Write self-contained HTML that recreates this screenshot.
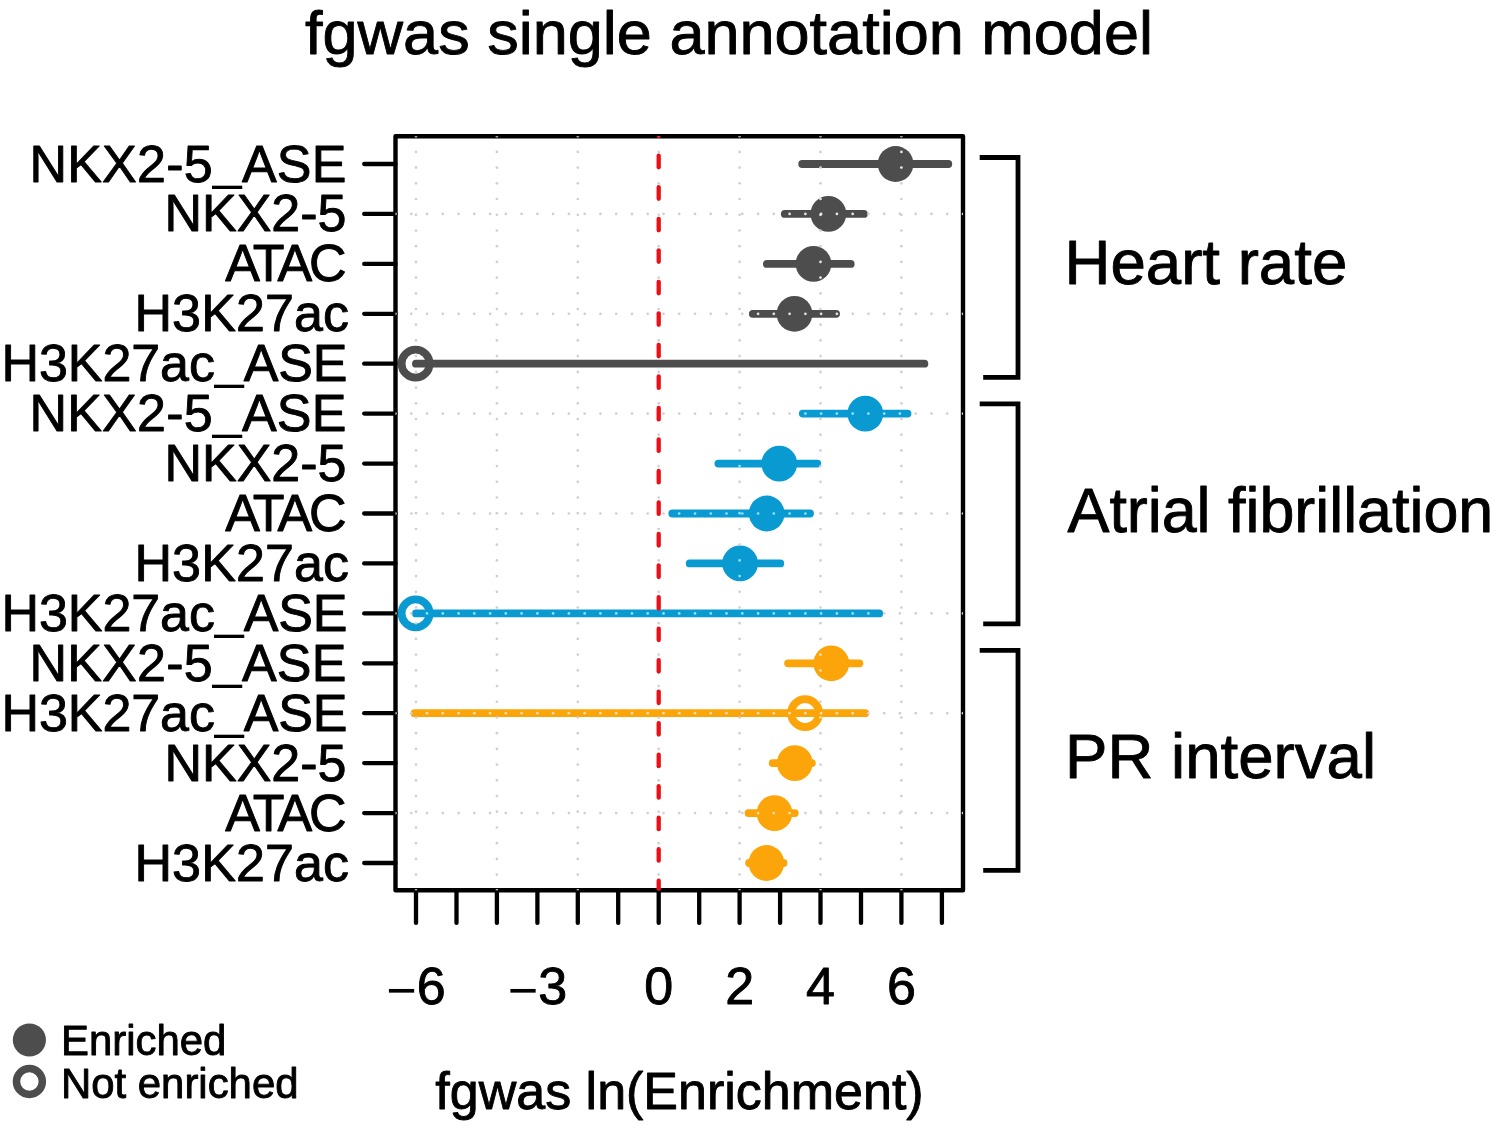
<!DOCTYPE html>
<html lang="en"><head><meta charset="utf-8"><title>fgwas single annotation model</title>
<style>html,body{margin:0;padding:0;background:#fff}body{width:1495px;height:1128px;overflow:hidden}svg{display:block}text{font-family:"Liberation Sans",sans-serif;fill:#000;stroke:#000;stroke-width:0.9px;stroke-linejoin:round}</style>
</head><body>
<svg width="1495" height="1128" viewBox="0 0 1495 1128">
<rect width="1495" height="1128" fill="#fff"/>
<text transform="translate(729 53.6) scale(1 0.977)" font-size="63.05" text-anchor="middle">fgwas single annotation model</text>
<defs><clipPath id="pc"><rect x="395.5" y="136.2" width="567.5" height="754.1"/></clipPath></defs>
<g id="data">
<line x1="802.2" y1="164.0" x2="948.3" y2="164.0" stroke="#4d4d4d" stroke-width="7.8" stroke-linecap="round"/>
<circle cx="895.6" cy="164.0" r="17.9" fill="#4d4d4d"/>
<line x1="784.8" y1="213.9" x2="863.9" y2="213.9" stroke="#4d4d4d" stroke-width="7.8" stroke-linecap="round"/>
<circle cx="828.4" cy="213.9" r="17.9" fill="#4d4d4d"/>
<line x1="766.9" y1="263.9" x2="850.7" y2="263.9" stroke="#4d4d4d" stroke-width="7.8" stroke-linecap="round"/>
<circle cx="813.5" cy="263.9" r="17.9" fill="#4d4d4d"/>
<line x1="752.8" y1="313.8" x2="836.1" y2="313.8" stroke="#4d4d4d" stroke-width="7.8" stroke-linecap="round"/>
<circle cx="794.5" cy="313.8" r="17.9" fill="#4d4d4d"/>
<circle cx="415.6" cy="363.7" r="14.00" fill="#fff" stroke="#4d4d4d" stroke-width="7.8"/>
<line x1="415.9" y1="363.7" x2="924.4" y2="363.7" stroke="#4d4d4d" stroke-width="7.8" stroke-linecap="round"/>
<line x1="802.8" y1="413.6" x2="907.5" y2="413.6" stroke="#0a9ad2" stroke-width="7.8" stroke-linecap="round"/>
<circle cx="865.3" cy="413.6" r="17.9" fill="#0a9ad2"/>
<line x1="718.4" y1="463.6" x2="817.3" y2="463.6" stroke="#0a9ad2" stroke-width="7.8" stroke-linecap="round"/>
<circle cx="779.3" cy="463.6" r="17.9" fill="#0a9ad2"/>
<line x1="672.3" y1="513.5" x2="810.0" y2="513.5" stroke="#0a9ad2" stroke-width="7.8" stroke-linecap="round"/>
<circle cx="766.7" cy="513.5" r="17.9" fill="#0a9ad2"/>
<line x1="689.7" y1="563.4" x2="780.3" y2="563.4" stroke="#0a9ad2" stroke-width="7.8" stroke-linecap="round"/>
<circle cx="740.1" cy="563.4" r="17.9" fill="#0a9ad2"/>
<circle cx="415.6" cy="613.4" r="14.00" fill="#fff" stroke="#0a9ad2" stroke-width="7.8"/>
<line x1="415.9" y1="613.4" x2="879.2" y2="613.4" stroke="#0a9ad2" stroke-width="7.8" stroke-linecap="round"/>
<line x1="788.1" y1="663.3" x2="859.4" y2="663.3" stroke="#fca50a" stroke-width="7.8" stroke-linecap="round"/>
<circle cx="831.3" cy="663.3" r="17.9" fill="#fca50a"/>
<circle cx="805.1" cy="713.2" r="14.00" fill="#fff" stroke="#fca50a" stroke-width="7.8"/>
<line x1="414.5" y1="713.2" x2="865.2" y2="713.2" stroke="#fca50a" stroke-width="7.8" stroke-linecap="round"/>
<line x1="772.7" y1="763.1" x2="811.9" y2="763.1" stroke="#fca50a" stroke-width="7.8" stroke-linecap="round"/>
<circle cx="794.8" cy="763.1" r="17.9" fill="#fca50a"/>
<line x1="748.5" y1="813.1" x2="794.8" y2="813.1" stroke="#fca50a" stroke-width="7.8" stroke-linecap="round"/>
<circle cx="774.5" cy="813.1" r="17.9" fill="#fca50a"/>
<line x1="749.1" y1="863.0" x2="783.5" y2="863.0" stroke="#fca50a" stroke-width="7.8" stroke-linecap="round"/>
<circle cx="766.4" cy="863.0" r="17.9" fill="#fca50a"/>
</g>
<g id="axes" stroke="#000" fill="none">
<rect x="395.5" y="136.2" width="567.5" height="754.1" stroke-width="4.4" stroke-linejoin="round"/>
<line x1="364.2" y1="164.0" x2="395.5" y2="164.0" stroke-width="4.3" stroke-linecap="round"/>
<line x1="364.2" y1="213.9" x2="395.5" y2="213.9" stroke-width="4.3" stroke-linecap="round"/>
<line x1="364.2" y1="263.9" x2="395.5" y2="263.9" stroke-width="4.3" stroke-linecap="round"/>
<line x1="364.2" y1="313.8" x2="395.5" y2="313.8" stroke-width="4.3" stroke-linecap="round"/>
<line x1="364.2" y1="363.7" x2="395.5" y2="363.7" stroke-width="4.3" stroke-linecap="round"/>
<line x1="364.2" y1="413.6" x2="395.5" y2="413.6" stroke-width="4.3" stroke-linecap="round"/>
<line x1="364.2" y1="463.6" x2="395.5" y2="463.6" stroke-width="4.3" stroke-linecap="round"/>
<line x1="364.2" y1="513.5" x2="395.5" y2="513.5" stroke-width="4.3" stroke-linecap="round"/>
<line x1="364.2" y1="563.4" x2="395.5" y2="563.4" stroke-width="4.3" stroke-linecap="round"/>
<line x1="364.2" y1="613.4" x2="395.5" y2="613.4" stroke-width="4.3" stroke-linecap="round"/>
<line x1="364.2" y1="663.3" x2="395.5" y2="663.3" stroke-width="4.3" stroke-linecap="round"/>
<line x1="364.2" y1="713.2" x2="395.5" y2="713.2" stroke-width="4.3" stroke-linecap="round"/>
<line x1="364.2" y1="763.1" x2="395.5" y2="763.1" stroke-width="4.3" stroke-linecap="round"/>
<line x1="364.2" y1="813.1" x2="395.5" y2="813.1" stroke-width="4.3" stroke-linecap="round"/>
<line x1="364.2" y1="863.0" x2="395.5" y2="863.0" stroke-width="4.3" stroke-linecap="round"/>
<line x1="416.0" y1="890.3" x2="416.0" y2="922.9" stroke-width="4.3" stroke-linecap="round"/>
<line x1="456.5" y1="890.3" x2="456.5" y2="922.9" stroke-width="4.3" stroke-linecap="round"/>
<line x1="496.9" y1="890.3" x2="496.9" y2="922.9" stroke-width="4.3" stroke-linecap="round"/>
<line x1="537.4" y1="890.3" x2="537.4" y2="922.9" stroke-width="4.3" stroke-linecap="round"/>
<line x1="577.8" y1="890.3" x2="577.8" y2="922.9" stroke-width="4.3" stroke-linecap="round"/>
<line x1="618.2" y1="890.3" x2="618.2" y2="922.9" stroke-width="4.3" stroke-linecap="round"/>
<line x1="658.7" y1="890.3" x2="658.7" y2="922.9" stroke-width="4.3" stroke-linecap="round"/>
<line x1="699.2" y1="890.3" x2="699.2" y2="922.9" stroke-width="4.3" stroke-linecap="round"/>
<line x1="739.6" y1="890.3" x2="739.6" y2="922.9" stroke-width="4.3" stroke-linecap="round"/>
<line x1="780.1" y1="890.3" x2="780.1" y2="922.9" stroke-width="4.3" stroke-linecap="round"/>
<line x1="820.5" y1="890.3" x2="820.5" y2="922.9" stroke-width="4.3" stroke-linecap="round"/>
<line x1="861.0" y1="890.3" x2="861.0" y2="922.9" stroke-width="4.3" stroke-linecap="round"/>
<line x1="901.4" y1="890.3" x2="901.4" y2="922.9" stroke-width="4.3" stroke-linecap="round"/>
<line x1="941.9" y1="890.3" x2="941.9" y2="922.9" stroke-width="4.3" stroke-linecap="round"/>
<path d="M979.7 157.5 H1018 V377.4 H983.2" stroke-width="4.8" stroke-linejoin="miter"/>
<path d="M979.7 403.9 H1018 V623.9 H983.2" stroke-width="4.8" stroke-linejoin="miter"/>
<path d="M979.7 650.3 H1018 V870.4 H983.2" stroke-width="4.8" stroke-linejoin="miter"/>
</g>
<g id="grid" clip-path="url(#pc)">
<circle cx="416.0" cy="136.2" r="1.35" fill="#d0d0d0"/>
<circle cx="416.0" cy="151.9" r="1.35" fill="#d0d0d0"/>
<circle cx="416.0" cy="167.6" r="1.35" fill="#d0d0d0"/>
<circle cx="416.0" cy="183.3" r="1.35" fill="#d0d0d0"/>
<circle cx="416.0" cy="199.0" r="1.35" fill="#d0d0d0"/>
<circle cx="416.0" cy="214.8" r="1.35" fill="#d0d0d0"/>
<circle cx="416.0" cy="230.5" r="1.35" fill="#d0d0d0"/>
<circle cx="416.0" cy="246.2" r="1.35" fill="#d0d0d0"/>
<circle cx="416.0" cy="261.9" r="1.35" fill="#d0d0d0"/>
<circle cx="416.0" cy="277.6" r="1.35" fill="#d0d0d0"/>
<circle cx="416.0" cy="293.3" r="1.35" fill="#d0d0d0"/>
<circle cx="416.0" cy="309.0" r="1.35" fill="#d0d0d0"/>
<circle cx="416.0" cy="324.7" r="1.35" fill="#d0d0d0"/>
<circle cx="416.0" cy="340.4" r="1.35" fill="#d0d0d0"/>
<circle cx="416.0" cy="356.1" r="1.35" fill="#d0d0d0"/>
<circle cx="416.0" cy="371.9" r="1.35" fill="#d0d0d0"/>
<circle cx="416.0" cy="387.6" r="1.35" fill="#d0d0d0"/>
<circle cx="416.0" cy="403.3" r="1.35" fill="#d0d0d0"/>
<circle cx="416.0" cy="419.0" r="1.35" fill="#d0d0d0"/>
<circle cx="416.0" cy="434.7" r="1.35" fill="#d0d0d0"/>
<circle cx="416.0" cy="450.4" r="1.35" fill="#d0d0d0"/>
<circle cx="416.0" cy="466.1" r="1.35" fill="#d0d0d0"/>
<circle cx="416.0" cy="481.8" r="1.35" fill="#d0d0d0"/>
<circle cx="416.0" cy="497.5" r="1.35" fill="#d0d0d0"/>
<circle cx="416.0" cy="513.2" r="1.35" fill="#d0d0d0"/>
<circle cx="416.0" cy="529.0" r="1.35" fill="#d0d0d0"/>
<circle cx="416.0" cy="544.7" r="1.35" fill="#d0d0d0"/>
<circle cx="416.0" cy="560.4" r="1.35" fill="#d0d0d0"/>
<circle cx="416.0" cy="576.1" r="1.35" fill="#d0d0d0"/>
<circle cx="416.0" cy="591.8" r="1.35" fill="#d0d0d0"/>
<circle cx="416.0" cy="607.5" r="1.35" fill="#d0d0d0"/>
<circle cx="416.0" cy="623.2" r="1.35" fill="#d0d0d0"/>
<circle cx="416.0" cy="638.9" r="1.35" fill="#d0d0d0"/>
<circle cx="416.0" cy="654.6" r="1.35" fill="#d0d0d0"/>
<circle cx="416.0" cy="670.4" r="1.35" fill="#d0d0d0"/>
<circle cx="416.0" cy="686.1" r="1.35" fill="#d0d0d0"/>
<circle cx="416.0" cy="701.8" r="1.35" fill="#d0d0d0"/>
<circle cx="416.0" cy="717.5" r="1.35" fill="#d0d0d0"/>
<circle cx="416.0" cy="733.2" r="1.35" fill="#d0d0d0"/>
<circle cx="416.0" cy="748.9" r="1.35" fill="#d0d0d0"/>
<circle cx="416.0" cy="764.6" r="1.35" fill="#d0d0d0"/>
<circle cx="416.0" cy="780.3" r="1.35" fill="#d0d0d0"/>
<circle cx="416.0" cy="796.0" r="1.35" fill="#d0d0d0"/>
<circle cx="416.0" cy="811.7" r="1.35" fill="#d0d0d0"/>
<circle cx="416.0" cy="827.5" r="1.35" fill="#d0d0d0"/>
<circle cx="416.0" cy="843.2" r="1.35" fill="#d0d0d0"/>
<circle cx="416.0" cy="858.9" r="1.35" fill="#d0d0d0"/>
<circle cx="416.0" cy="874.6" r="1.35" fill="#d0d0d0"/>
<circle cx="416.0" cy="890.3" r="1.35" fill="#d0d0d0"/>
<circle cx="496.9" cy="136.2" r="1.35" fill="#d0d0d0"/>
<circle cx="496.9" cy="151.9" r="1.35" fill="#d0d0d0"/>
<circle cx="496.9" cy="167.6" r="1.35" fill="#d0d0d0"/>
<circle cx="496.9" cy="183.3" r="1.35" fill="#d0d0d0"/>
<circle cx="496.9" cy="199.0" r="1.35" fill="#d0d0d0"/>
<circle cx="496.9" cy="214.8" r="1.35" fill="#d0d0d0"/>
<circle cx="496.9" cy="230.5" r="1.35" fill="#d0d0d0"/>
<circle cx="496.9" cy="246.2" r="1.35" fill="#d0d0d0"/>
<circle cx="496.9" cy="261.9" r="1.35" fill="#d0d0d0"/>
<circle cx="496.9" cy="277.6" r="1.35" fill="#d0d0d0"/>
<circle cx="496.9" cy="293.3" r="1.35" fill="#d0d0d0"/>
<circle cx="496.9" cy="309.0" r="1.35" fill="#d0d0d0"/>
<circle cx="496.9" cy="324.7" r="1.35" fill="#d0d0d0"/>
<circle cx="496.9" cy="340.4" r="1.35" fill="#d0d0d0"/>
<circle cx="496.9" cy="356.1" r="1.35" fill="#d0d0d0"/>
<circle cx="496.9" cy="371.9" r="1.35" fill="#d0d0d0"/>
<circle cx="496.9" cy="387.6" r="1.35" fill="#d0d0d0"/>
<circle cx="496.9" cy="403.3" r="1.35" fill="#d0d0d0"/>
<circle cx="496.9" cy="419.0" r="1.35" fill="#d0d0d0"/>
<circle cx="496.9" cy="434.7" r="1.35" fill="#d0d0d0"/>
<circle cx="496.9" cy="450.4" r="1.35" fill="#d0d0d0"/>
<circle cx="496.9" cy="466.1" r="1.35" fill="#d0d0d0"/>
<circle cx="496.9" cy="481.8" r="1.35" fill="#d0d0d0"/>
<circle cx="496.9" cy="497.5" r="1.35" fill="#d0d0d0"/>
<circle cx="496.9" cy="513.2" r="1.35" fill="#d0d0d0"/>
<circle cx="496.9" cy="529.0" r="1.35" fill="#d0d0d0"/>
<circle cx="496.9" cy="544.7" r="1.35" fill="#d0d0d0"/>
<circle cx="496.9" cy="560.4" r="1.35" fill="#d0d0d0"/>
<circle cx="496.9" cy="576.1" r="1.35" fill="#d0d0d0"/>
<circle cx="496.9" cy="591.8" r="1.35" fill="#d0d0d0"/>
<circle cx="496.9" cy="607.5" r="1.35" fill="#d0d0d0"/>
<circle cx="496.9" cy="623.2" r="1.35" fill="#d0d0d0"/>
<circle cx="496.9" cy="638.9" r="1.35" fill="#d0d0d0"/>
<circle cx="496.9" cy="654.6" r="1.35" fill="#d0d0d0"/>
<circle cx="496.9" cy="670.4" r="1.35" fill="#d0d0d0"/>
<circle cx="496.9" cy="686.1" r="1.35" fill="#d0d0d0"/>
<circle cx="496.9" cy="701.8" r="1.35" fill="#d0d0d0"/>
<circle cx="496.9" cy="717.5" r="1.35" fill="#d0d0d0"/>
<circle cx="496.9" cy="733.2" r="1.35" fill="#d0d0d0"/>
<circle cx="496.9" cy="748.9" r="1.35" fill="#d0d0d0"/>
<circle cx="496.9" cy="764.6" r="1.35" fill="#d0d0d0"/>
<circle cx="496.9" cy="780.3" r="1.35" fill="#d0d0d0"/>
<circle cx="496.9" cy="796.0" r="1.35" fill="#d0d0d0"/>
<circle cx="496.9" cy="811.7" r="1.35" fill="#d0d0d0"/>
<circle cx="496.9" cy="827.5" r="1.35" fill="#d0d0d0"/>
<circle cx="496.9" cy="843.2" r="1.35" fill="#d0d0d0"/>
<circle cx="496.9" cy="858.9" r="1.35" fill="#d0d0d0"/>
<circle cx="496.9" cy="874.6" r="1.35" fill="#d0d0d0"/>
<circle cx="496.9" cy="890.3" r="1.35" fill="#d0d0d0"/>
<circle cx="577.8" cy="136.2" r="1.35" fill="#d0d0d0"/>
<circle cx="577.8" cy="151.9" r="1.35" fill="#d0d0d0"/>
<circle cx="577.8" cy="167.6" r="1.35" fill="#d0d0d0"/>
<circle cx="577.8" cy="183.3" r="1.35" fill="#d0d0d0"/>
<circle cx="577.8" cy="199.0" r="1.35" fill="#d0d0d0"/>
<circle cx="577.8" cy="214.8" r="1.35" fill="#d0d0d0"/>
<circle cx="577.8" cy="230.5" r="1.35" fill="#d0d0d0"/>
<circle cx="577.8" cy="246.2" r="1.35" fill="#d0d0d0"/>
<circle cx="577.8" cy="261.9" r="1.35" fill="#d0d0d0"/>
<circle cx="577.8" cy="277.6" r="1.35" fill="#d0d0d0"/>
<circle cx="577.8" cy="293.3" r="1.35" fill="#d0d0d0"/>
<circle cx="577.8" cy="309.0" r="1.35" fill="#d0d0d0"/>
<circle cx="577.8" cy="324.7" r="1.35" fill="#d0d0d0"/>
<circle cx="577.8" cy="340.4" r="1.35" fill="#d0d0d0"/>
<circle cx="577.8" cy="356.1" r="1.35" fill="#d0d0d0"/>
<circle cx="577.8" cy="371.9" r="1.35" fill="#d0d0d0"/>
<circle cx="577.8" cy="387.6" r="1.35" fill="#d0d0d0"/>
<circle cx="577.8" cy="403.3" r="1.35" fill="#d0d0d0"/>
<circle cx="577.8" cy="419.0" r="1.35" fill="#d0d0d0"/>
<circle cx="577.8" cy="434.7" r="1.35" fill="#d0d0d0"/>
<circle cx="577.8" cy="450.4" r="1.35" fill="#d0d0d0"/>
<circle cx="577.8" cy="466.1" r="1.35" fill="#d0d0d0"/>
<circle cx="577.8" cy="481.8" r="1.35" fill="#d0d0d0"/>
<circle cx="577.8" cy="497.5" r="1.35" fill="#d0d0d0"/>
<circle cx="577.8" cy="513.2" r="1.35" fill="#d0d0d0"/>
<circle cx="577.8" cy="529.0" r="1.35" fill="#d0d0d0"/>
<circle cx="577.8" cy="544.7" r="1.35" fill="#d0d0d0"/>
<circle cx="577.8" cy="560.4" r="1.35" fill="#d0d0d0"/>
<circle cx="577.8" cy="576.1" r="1.35" fill="#d0d0d0"/>
<circle cx="577.8" cy="591.8" r="1.35" fill="#d0d0d0"/>
<circle cx="577.8" cy="607.5" r="1.35" fill="#d0d0d0"/>
<circle cx="577.8" cy="623.2" r="1.35" fill="#d0d0d0"/>
<circle cx="577.8" cy="638.9" r="1.35" fill="#d0d0d0"/>
<circle cx="577.8" cy="654.6" r="1.35" fill="#d0d0d0"/>
<circle cx="577.8" cy="670.4" r="1.35" fill="#d0d0d0"/>
<circle cx="577.8" cy="686.1" r="1.35" fill="#d0d0d0"/>
<circle cx="577.8" cy="701.8" r="1.35" fill="#d0d0d0"/>
<circle cx="577.8" cy="717.5" r="1.35" fill="#d0d0d0"/>
<circle cx="577.8" cy="733.2" r="1.35" fill="#d0d0d0"/>
<circle cx="577.8" cy="748.9" r="1.35" fill="#d0d0d0"/>
<circle cx="577.8" cy="764.6" r="1.35" fill="#d0d0d0"/>
<circle cx="577.8" cy="780.3" r="1.35" fill="#d0d0d0"/>
<circle cx="577.8" cy="796.0" r="1.35" fill="#d0d0d0"/>
<circle cx="577.8" cy="811.7" r="1.35" fill="#d0d0d0"/>
<circle cx="577.8" cy="827.5" r="1.35" fill="#d0d0d0"/>
<circle cx="577.8" cy="843.2" r="1.35" fill="#d0d0d0"/>
<circle cx="577.8" cy="858.9" r="1.35" fill="#d0d0d0"/>
<circle cx="577.8" cy="874.6" r="1.35" fill="#d0d0d0"/>
<circle cx="577.8" cy="890.3" r="1.35" fill="#d0d0d0"/>
<circle cx="658.7" cy="136.2" r="1.35" fill="#d0d0d0"/>
<circle cx="658.7" cy="151.9" r="1.35" fill="#d0d0d0"/>
<circle cx="658.7" cy="167.6" r="1.35" fill="#d0d0d0"/>
<circle cx="658.7" cy="183.3" r="1.35" fill="#d0d0d0"/>
<circle cx="658.7" cy="199.0" r="1.35" fill="#d0d0d0"/>
<circle cx="658.7" cy="214.8" r="1.35" fill="#d0d0d0"/>
<circle cx="658.7" cy="230.5" r="1.35" fill="#d0d0d0"/>
<circle cx="658.7" cy="246.2" r="1.35" fill="#d0d0d0"/>
<circle cx="658.7" cy="261.9" r="1.35" fill="#d0d0d0"/>
<circle cx="658.7" cy="277.6" r="1.35" fill="#d0d0d0"/>
<circle cx="658.7" cy="293.3" r="1.35" fill="#d0d0d0"/>
<circle cx="658.7" cy="309.0" r="1.35" fill="#d0d0d0"/>
<circle cx="658.7" cy="324.7" r="1.35" fill="#d0d0d0"/>
<circle cx="658.7" cy="340.4" r="1.35" fill="#d0d0d0"/>
<circle cx="658.7" cy="356.1" r="1.35" fill="#d0d0d0"/>
<circle cx="658.7" cy="371.9" r="1.35" fill="#d0d0d0"/>
<circle cx="658.7" cy="387.6" r="1.35" fill="#d0d0d0"/>
<circle cx="658.7" cy="403.3" r="1.35" fill="#d0d0d0"/>
<circle cx="658.7" cy="419.0" r="1.35" fill="#d0d0d0"/>
<circle cx="658.7" cy="434.7" r="1.35" fill="#d0d0d0"/>
<circle cx="658.7" cy="450.4" r="1.35" fill="#d0d0d0"/>
<circle cx="658.7" cy="466.1" r="1.35" fill="#d0d0d0"/>
<circle cx="658.7" cy="481.8" r="1.35" fill="#d0d0d0"/>
<circle cx="658.7" cy="497.5" r="1.35" fill="#d0d0d0"/>
<circle cx="658.7" cy="513.2" r="1.35" fill="#d0d0d0"/>
<circle cx="658.7" cy="529.0" r="1.35" fill="#d0d0d0"/>
<circle cx="658.7" cy="544.7" r="1.35" fill="#d0d0d0"/>
<circle cx="658.7" cy="560.4" r="1.35" fill="#d0d0d0"/>
<circle cx="658.7" cy="576.1" r="1.35" fill="#d0d0d0"/>
<circle cx="658.7" cy="591.8" r="1.35" fill="#d0d0d0"/>
<circle cx="658.7" cy="607.5" r="1.35" fill="#d0d0d0"/>
<circle cx="658.7" cy="623.2" r="1.35" fill="#d0d0d0"/>
<circle cx="658.7" cy="638.9" r="1.35" fill="#d0d0d0"/>
<circle cx="658.7" cy="654.6" r="1.35" fill="#d0d0d0"/>
<circle cx="658.7" cy="670.4" r="1.35" fill="#d0d0d0"/>
<circle cx="658.7" cy="686.1" r="1.35" fill="#d0d0d0"/>
<circle cx="658.7" cy="701.8" r="1.35" fill="#d0d0d0"/>
<circle cx="658.7" cy="717.5" r="1.35" fill="#d0d0d0"/>
<circle cx="658.7" cy="733.2" r="1.35" fill="#d0d0d0"/>
<circle cx="658.7" cy="748.9" r="1.35" fill="#d0d0d0"/>
<circle cx="658.7" cy="764.6" r="1.35" fill="#d0d0d0"/>
<circle cx="658.7" cy="780.3" r="1.35" fill="#d0d0d0"/>
<circle cx="658.7" cy="796.0" r="1.35" fill="#d0d0d0"/>
<circle cx="658.7" cy="811.7" r="1.35" fill="#d0d0d0"/>
<circle cx="658.7" cy="827.5" r="1.35" fill="#d0d0d0"/>
<circle cx="658.7" cy="843.2" r="1.35" fill="#d0d0d0"/>
<circle cx="658.7" cy="858.9" r="1.35" fill="#d0d0d0"/>
<circle cx="658.7" cy="874.6" r="1.35" fill="#d0d0d0"/>
<circle cx="658.7" cy="890.3" r="1.35" fill="#d0d0d0"/>
<circle cx="739.6" cy="136.2" r="1.35" fill="#d0d0d0"/>
<circle cx="739.6" cy="151.9" r="1.35" fill="#d0d0d0"/>
<circle cx="739.6" cy="167.6" r="1.35" fill="#d0d0d0"/>
<circle cx="739.6" cy="183.3" r="1.35" fill="#d0d0d0"/>
<circle cx="739.6" cy="199.0" r="1.35" fill="#d0d0d0"/>
<circle cx="739.6" cy="214.8" r="1.35" fill="#d0d0d0"/>
<circle cx="739.6" cy="230.5" r="1.35" fill="#d0d0d0"/>
<circle cx="739.6" cy="246.2" r="1.35" fill="#d0d0d0"/>
<circle cx="739.6" cy="261.9" r="1.35" fill="#d0d0d0"/>
<circle cx="739.6" cy="277.6" r="1.35" fill="#d0d0d0"/>
<circle cx="739.6" cy="293.3" r="1.35" fill="#d0d0d0"/>
<circle cx="739.6" cy="309.0" r="1.35" fill="#d0d0d0"/>
<circle cx="739.6" cy="324.7" r="1.35" fill="#d0d0d0"/>
<circle cx="739.6" cy="340.4" r="1.35" fill="#d0d0d0"/>
<circle cx="739.6" cy="356.1" r="1.35" fill="#d0d0d0"/>
<circle cx="739.6" cy="371.9" r="1.35" fill="#d0d0d0"/>
<circle cx="739.6" cy="387.6" r="1.35" fill="#d0d0d0"/>
<circle cx="739.6" cy="403.3" r="1.35" fill="#d0d0d0"/>
<circle cx="739.6" cy="419.0" r="1.35" fill="#d0d0d0"/>
<circle cx="739.6" cy="434.7" r="1.35" fill="#d0d0d0"/>
<circle cx="739.6" cy="450.4" r="1.35" fill="#d0d0d0"/>
<circle cx="739.6" cy="466.1" r="1.35" fill="#8fe4ff"/>
<circle cx="739.6" cy="481.8" r="1.35" fill="#d0d0d0"/>
<circle cx="739.6" cy="497.5" r="1.35" fill="#d0d0d0"/>
<circle cx="739.6" cy="513.2" r="1.35" fill="#8fe4ff"/>
<circle cx="739.6" cy="529.0" r="1.35" fill="#d0d0d0"/>
<circle cx="739.6" cy="544.7" r="1.35" fill="#d0d0d0"/>
<circle cx="739.6" cy="560.4" r="1.35" fill="#8fe4ff"/>
<circle cx="739.6" cy="576.1" r="1.35" fill="#8fe4ff"/>
<circle cx="739.6" cy="591.8" r="1.35" fill="#d0d0d0"/>
<circle cx="739.6" cy="607.5" r="1.35" fill="#d0d0d0"/>
<circle cx="739.6" cy="623.2" r="1.35" fill="#d0d0d0"/>
<circle cx="739.6" cy="638.9" r="1.35" fill="#d0d0d0"/>
<circle cx="739.6" cy="654.6" r="1.35" fill="#d0d0d0"/>
<circle cx="739.6" cy="670.4" r="1.35" fill="#d0d0d0"/>
<circle cx="739.6" cy="686.1" r="1.35" fill="#d0d0d0"/>
<circle cx="739.6" cy="701.8" r="1.35" fill="#d0d0d0"/>
<circle cx="739.6" cy="717.5" r="1.35" fill="#d0d0d0"/>
<circle cx="739.6" cy="733.2" r="1.35" fill="#d0d0d0"/>
<circle cx="739.6" cy="748.9" r="1.35" fill="#d0d0d0"/>
<circle cx="739.6" cy="764.6" r="1.35" fill="#d0d0d0"/>
<circle cx="739.6" cy="780.3" r="1.35" fill="#d0d0d0"/>
<circle cx="739.6" cy="796.0" r="1.35" fill="#d0d0d0"/>
<circle cx="739.6" cy="811.7" r="1.35" fill="#d0d0d0"/>
<circle cx="739.6" cy="827.5" r="1.35" fill="#d0d0d0"/>
<circle cx="739.6" cy="843.2" r="1.35" fill="#d0d0d0"/>
<circle cx="739.6" cy="858.9" r="1.35" fill="#d0d0d0"/>
<circle cx="739.6" cy="874.6" r="1.35" fill="#d0d0d0"/>
<circle cx="739.6" cy="890.3" r="1.35" fill="#d0d0d0"/>
<circle cx="820.5" cy="136.2" r="1.35" fill="#d0d0d0"/>
<circle cx="820.5" cy="151.9" r="1.35" fill="#d0d0d0"/>
<circle cx="820.5" cy="167.6" r="1.35" fill="#d0d0d0"/>
<circle cx="820.5" cy="183.3" r="1.35" fill="#d0d0d0"/>
<circle cx="820.5" cy="199.0" r="1.35" fill="#e6e6e6"/>
<circle cx="820.5" cy="214.8" r="1.35" fill="#e6e6e6"/>
<circle cx="820.5" cy="230.5" r="1.35" fill="#d0d0d0"/>
<circle cx="820.5" cy="246.2" r="1.35" fill="#d0d0d0"/>
<circle cx="820.5" cy="261.9" r="1.35" fill="#e6e6e6"/>
<circle cx="820.5" cy="277.6" r="1.35" fill="#e6e6e6"/>
<circle cx="820.5" cy="293.3" r="1.35" fill="#d0d0d0"/>
<circle cx="820.5" cy="309.0" r="1.35" fill="#d0d0d0"/>
<circle cx="820.5" cy="324.7" r="1.35" fill="#d0d0d0"/>
<circle cx="820.5" cy="340.4" r="1.35" fill="#d0d0d0"/>
<circle cx="820.5" cy="356.1" r="1.35" fill="#d0d0d0"/>
<circle cx="820.5" cy="371.9" r="1.35" fill="#d0d0d0"/>
<circle cx="820.5" cy="387.6" r="1.35" fill="#d0d0d0"/>
<circle cx="820.5" cy="403.3" r="1.35" fill="#d0d0d0"/>
<circle cx="820.5" cy="419.0" r="1.35" fill="#d0d0d0"/>
<circle cx="820.5" cy="434.7" r="1.35" fill="#d0d0d0"/>
<circle cx="820.5" cy="450.4" r="1.35" fill="#d0d0d0"/>
<circle cx="820.5" cy="466.1" r="1.35" fill="#d0d0d0"/>
<circle cx="820.5" cy="481.8" r="1.35" fill="#d0d0d0"/>
<circle cx="820.5" cy="497.5" r="1.35" fill="#d0d0d0"/>
<circle cx="820.5" cy="513.2" r="1.35" fill="#d0d0d0"/>
<circle cx="820.5" cy="529.0" r="1.35" fill="#d0d0d0"/>
<circle cx="820.5" cy="544.7" r="1.35" fill="#d0d0d0"/>
<circle cx="820.5" cy="560.4" r="1.35" fill="#d0d0d0"/>
<circle cx="820.5" cy="576.1" r="1.35" fill="#d0d0d0"/>
<circle cx="820.5" cy="591.8" r="1.35" fill="#d0d0d0"/>
<circle cx="820.5" cy="607.5" r="1.35" fill="#d0d0d0"/>
<circle cx="820.5" cy="623.2" r="1.35" fill="#d0d0d0"/>
<circle cx="820.5" cy="638.9" r="1.35" fill="#d0d0d0"/>
<circle cx="820.5" cy="654.6" r="1.35" fill="#ffdfae"/>
<circle cx="820.5" cy="670.4" r="1.35" fill="#ffdfae"/>
<circle cx="820.5" cy="686.1" r="1.35" fill="#d0d0d0"/>
<circle cx="820.5" cy="701.8" r="1.35" fill="#d0d0d0"/>
<circle cx="820.5" cy="717.5" r="1.35" fill="#ffdfae"/>
<circle cx="820.5" cy="733.2" r="1.35" fill="#d0d0d0"/>
<circle cx="820.5" cy="748.9" r="1.35" fill="#d0d0d0"/>
<circle cx="820.5" cy="764.6" r="1.35" fill="#d0d0d0"/>
<circle cx="820.5" cy="780.3" r="1.35" fill="#d0d0d0"/>
<circle cx="820.5" cy="796.0" r="1.35" fill="#d0d0d0"/>
<circle cx="820.5" cy="811.7" r="1.35" fill="#d0d0d0"/>
<circle cx="820.5" cy="827.5" r="1.35" fill="#d0d0d0"/>
<circle cx="820.5" cy="843.2" r="1.35" fill="#d0d0d0"/>
<circle cx="820.5" cy="858.9" r="1.35" fill="#d0d0d0"/>
<circle cx="820.5" cy="874.6" r="1.35" fill="#d0d0d0"/>
<circle cx="820.5" cy="890.3" r="1.35" fill="#d0d0d0"/>
<circle cx="901.4" cy="136.2" r="1.35" fill="#d0d0d0"/>
<circle cx="901.4" cy="151.9" r="1.35" fill="#e6e6e6"/>
<circle cx="901.4" cy="167.6" r="1.35" fill="#e6e6e6"/>
<circle cx="901.4" cy="183.3" r="1.35" fill="#d0d0d0"/>
<circle cx="901.4" cy="199.0" r="1.35" fill="#d0d0d0"/>
<circle cx="901.4" cy="214.8" r="1.35" fill="#d0d0d0"/>
<circle cx="901.4" cy="230.5" r="1.35" fill="#d0d0d0"/>
<circle cx="901.4" cy="246.2" r="1.35" fill="#d0d0d0"/>
<circle cx="901.4" cy="261.9" r="1.35" fill="#d0d0d0"/>
<circle cx="901.4" cy="277.6" r="1.35" fill="#d0d0d0"/>
<circle cx="901.4" cy="293.3" r="1.35" fill="#d0d0d0"/>
<circle cx="901.4" cy="309.0" r="1.35" fill="#d0d0d0"/>
<circle cx="901.4" cy="324.7" r="1.35" fill="#d0d0d0"/>
<circle cx="901.4" cy="340.4" r="1.35" fill="#d0d0d0"/>
<circle cx="901.4" cy="356.1" r="1.35" fill="#d0d0d0"/>
<circle cx="901.4" cy="371.9" r="1.35" fill="#d0d0d0"/>
<circle cx="901.4" cy="387.6" r="1.35" fill="#d0d0d0"/>
<circle cx="901.4" cy="403.3" r="1.35" fill="#d0d0d0"/>
<circle cx="901.4" cy="419.0" r="1.35" fill="#d0d0d0"/>
<circle cx="901.4" cy="434.7" r="1.35" fill="#d0d0d0"/>
<circle cx="901.4" cy="450.4" r="1.35" fill="#d0d0d0"/>
<circle cx="901.4" cy="466.1" r="1.35" fill="#d0d0d0"/>
<circle cx="901.4" cy="481.8" r="1.35" fill="#d0d0d0"/>
<circle cx="901.4" cy="497.5" r="1.35" fill="#d0d0d0"/>
<circle cx="901.4" cy="513.2" r="1.35" fill="#d0d0d0"/>
<circle cx="901.4" cy="529.0" r="1.35" fill="#d0d0d0"/>
<circle cx="901.4" cy="544.7" r="1.35" fill="#d0d0d0"/>
<circle cx="901.4" cy="560.4" r="1.35" fill="#d0d0d0"/>
<circle cx="901.4" cy="576.1" r="1.35" fill="#d0d0d0"/>
<circle cx="901.4" cy="591.8" r="1.35" fill="#d0d0d0"/>
<circle cx="901.4" cy="607.5" r="1.35" fill="#d0d0d0"/>
<circle cx="901.4" cy="623.2" r="1.35" fill="#d0d0d0"/>
<circle cx="901.4" cy="638.9" r="1.35" fill="#d0d0d0"/>
<circle cx="901.4" cy="654.6" r="1.35" fill="#d0d0d0"/>
<circle cx="901.4" cy="670.4" r="1.35" fill="#d0d0d0"/>
<circle cx="901.4" cy="686.1" r="1.35" fill="#d0d0d0"/>
<circle cx="901.4" cy="701.8" r="1.35" fill="#d0d0d0"/>
<circle cx="901.4" cy="717.5" r="1.35" fill="#d0d0d0"/>
<circle cx="901.4" cy="733.2" r="1.35" fill="#d0d0d0"/>
<circle cx="901.4" cy="748.9" r="1.35" fill="#d0d0d0"/>
<circle cx="901.4" cy="764.6" r="1.35" fill="#d0d0d0"/>
<circle cx="901.4" cy="780.3" r="1.35" fill="#d0d0d0"/>
<circle cx="901.4" cy="796.0" r="1.35" fill="#d0d0d0"/>
<circle cx="901.4" cy="811.7" r="1.35" fill="#d0d0d0"/>
<circle cx="901.4" cy="827.5" r="1.35" fill="#d0d0d0"/>
<circle cx="901.4" cy="843.2" r="1.35" fill="#d0d0d0"/>
<circle cx="901.4" cy="858.9" r="1.35" fill="#d0d0d0"/>
<circle cx="901.4" cy="874.6" r="1.35" fill="#d0d0d0"/>
<circle cx="901.4" cy="890.3" r="1.35" fill="#d0d0d0"/>
<circle cx="395.5" cy="213.9" r="1.35" fill="#d0d0d0"/>
<circle cx="411.3" cy="213.9" r="1.35" fill="#d0d0d0"/>
<circle cx="427.0" cy="213.9" r="1.35" fill="#d0d0d0"/>
<circle cx="442.8" cy="213.9" r="1.35" fill="#d0d0d0"/>
<circle cx="458.6" cy="213.9" r="1.35" fill="#d0d0d0"/>
<circle cx="474.3" cy="213.9" r="1.35" fill="#d0d0d0"/>
<circle cx="490.1" cy="213.9" r="1.35" fill="#d0d0d0"/>
<circle cx="505.8" cy="213.9" r="1.35" fill="#d0d0d0"/>
<circle cx="521.6" cy="213.9" r="1.35" fill="#d0d0d0"/>
<circle cx="537.4" cy="213.9" r="1.35" fill="#d0d0d0"/>
<circle cx="553.1" cy="213.9" r="1.35" fill="#d0d0d0"/>
<circle cx="568.9" cy="213.9" r="1.35" fill="#d0d0d0"/>
<circle cx="584.7" cy="213.9" r="1.35" fill="#d0d0d0"/>
<circle cx="600.4" cy="213.9" r="1.35" fill="#d0d0d0"/>
<circle cx="616.2" cy="213.9" r="1.35" fill="#d0d0d0"/>
<circle cx="632.0" cy="213.9" r="1.35" fill="#d0d0d0"/>
<circle cx="647.7" cy="213.9" r="1.35" fill="#d0d0d0"/>
<circle cx="663.5" cy="213.9" r="1.35" fill="#d0d0d0"/>
<circle cx="679.2" cy="213.9" r="1.35" fill="#d0d0d0"/>
<circle cx="695.0" cy="213.9" r="1.35" fill="#d0d0d0"/>
<circle cx="710.8" cy="213.9" r="1.35" fill="#d0d0d0"/>
<circle cx="726.5" cy="213.9" r="1.35" fill="#d0d0d0"/>
<circle cx="742.3" cy="213.9" r="1.35" fill="#d0d0d0"/>
<circle cx="758.1" cy="213.9" r="1.35" fill="#d0d0d0"/>
<circle cx="773.8" cy="213.9" r="1.35" fill="#d0d0d0"/>
<circle cx="789.6" cy="213.9" r="1.35" fill="#e6e6e6"/>
<circle cx="805.4" cy="213.9" r="1.35" fill="#e6e6e6"/>
<circle cx="821.1" cy="213.9" r="1.35" fill="#e6e6e6"/>
<circle cx="836.9" cy="213.9" r="1.35" fill="#e6e6e6"/>
<circle cx="852.7" cy="213.9" r="1.35" fill="#e6e6e6"/>
<circle cx="868.4" cy="213.9" r="1.35" fill="#d0d0d0"/>
<circle cx="884.2" cy="213.9" r="1.35" fill="#d0d0d0"/>
<circle cx="899.9" cy="213.9" r="1.35" fill="#d0d0d0"/>
<circle cx="915.7" cy="213.9" r="1.35" fill="#d0d0d0"/>
<circle cx="931.5" cy="213.9" r="1.35" fill="#d0d0d0"/>
<circle cx="947.2" cy="213.9" r="1.35" fill="#d0d0d0"/>
<circle cx="963.0" cy="213.9" r="1.35" fill="#d0d0d0"/>
<circle cx="395.5" cy="313.8" r="1.35" fill="#d0d0d0"/>
<circle cx="411.3" cy="313.8" r="1.35" fill="#d0d0d0"/>
<circle cx="427.0" cy="313.8" r="1.35" fill="#d0d0d0"/>
<circle cx="442.8" cy="313.8" r="1.35" fill="#d0d0d0"/>
<circle cx="458.6" cy="313.8" r="1.35" fill="#d0d0d0"/>
<circle cx="474.3" cy="313.8" r="1.35" fill="#d0d0d0"/>
<circle cx="490.1" cy="313.8" r="1.35" fill="#d0d0d0"/>
<circle cx="505.8" cy="313.8" r="1.35" fill="#d0d0d0"/>
<circle cx="521.6" cy="313.8" r="1.35" fill="#d0d0d0"/>
<circle cx="537.4" cy="313.8" r="1.35" fill="#d0d0d0"/>
<circle cx="553.1" cy="313.8" r="1.35" fill="#d0d0d0"/>
<circle cx="568.9" cy="313.8" r="1.35" fill="#d0d0d0"/>
<circle cx="584.7" cy="313.8" r="1.35" fill="#d0d0d0"/>
<circle cx="600.4" cy="313.8" r="1.35" fill="#d0d0d0"/>
<circle cx="616.2" cy="313.8" r="1.35" fill="#d0d0d0"/>
<circle cx="632.0" cy="313.8" r="1.35" fill="#d0d0d0"/>
<circle cx="647.7" cy="313.8" r="1.35" fill="#d0d0d0"/>
<circle cx="663.5" cy="313.8" r="1.35" fill="#d0d0d0"/>
<circle cx="679.2" cy="313.8" r="1.35" fill="#d0d0d0"/>
<circle cx="695.0" cy="313.8" r="1.35" fill="#d0d0d0"/>
<circle cx="710.8" cy="313.8" r="1.35" fill="#d0d0d0"/>
<circle cx="726.5" cy="313.8" r="1.35" fill="#d0d0d0"/>
<circle cx="742.3" cy="313.8" r="1.35" fill="#d0d0d0"/>
<circle cx="758.1" cy="313.8" r="1.35" fill="#e6e6e6"/>
<circle cx="773.8" cy="313.8" r="1.35" fill="#e6e6e6"/>
<circle cx="789.6" cy="313.8" r="1.35" fill="#e6e6e6"/>
<circle cx="805.4" cy="313.8" r="1.35" fill="#e6e6e6"/>
<circle cx="821.1" cy="313.8" r="1.35" fill="#e6e6e6"/>
<circle cx="836.9" cy="313.8" r="1.35" fill="#e6e6e6"/>
<circle cx="852.7" cy="313.8" r="1.35" fill="#d0d0d0"/>
<circle cx="868.4" cy="313.8" r="1.35" fill="#d0d0d0"/>
<circle cx="884.2" cy="313.8" r="1.35" fill="#d0d0d0"/>
<circle cx="899.9" cy="313.8" r="1.35" fill="#d0d0d0"/>
<circle cx="915.7" cy="313.8" r="1.35" fill="#d0d0d0"/>
<circle cx="931.5" cy="313.8" r="1.35" fill="#d0d0d0"/>
<circle cx="947.2" cy="313.8" r="1.35" fill="#d0d0d0"/>
<circle cx="963.0" cy="313.8" r="1.35" fill="#d0d0d0"/>
<circle cx="395.5" cy="413.6" r="1.35" fill="#d0d0d0"/>
<circle cx="411.3" cy="413.6" r="1.35" fill="#d0d0d0"/>
<circle cx="427.0" cy="413.6" r="1.35" fill="#d0d0d0"/>
<circle cx="442.8" cy="413.6" r="1.35" fill="#d0d0d0"/>
<circle cx="458.6" cy="413.6" r="1.35" fill="#d0d0d0"/>
<circle cx="474.3" cy="413.6" r="1.35" fill="#d0d0d0"/>
<circle cx="490.1" cy="413.6" r="1.35" fill="#d0d0d0"/>
<circle cx="505.8" cy="413.6" r="1.35" fill="#d0d0d0"/>
<circle cx="521.6" cy="413.6" r="1.35" fill="#d0d0d0"/>
<circle cx="537.4" cy="413.6" r="1.35" fill="#d0d0d0"/>
<circle cx="553.1" cy="413.6" r="1.35" fill="#d0d0d0"/>
<circle cx="568.9" cy="413.6" r="1.35" fill="#d0d0d0"/>
<circle cx="584.7" cy="413.6" r="1.35" fill="#d0d0d0"/>
<circle cx="600.4" cy="413.6" r="1.35" fill="#d0d0d0"/>
<circle cx="616.2" cy="413.6" r="1.35" fill="#d0d0d0"/>
<circle cx="632.0" cy="413.6" r="1.35" fill="#d0d0d0"/>
<circle cx="647.7" cy="413.6" r="1.35" fill="#d0d0d0"/>
<circle cx="663.5" cy="413.6" r="1.35" fill="#d0d0d0"/>
<circle cx="679.2" cy="413.6" r="1.35" fill="#d0d0d0"/>
<circle cx="695.0" cy="413.6" r="1.35" fill="#d0d0d0"/>
<circle cx="710.8" cy="413.6" r="1.35" fill="#d0d0d0"/>
<circle cx="726.5" cy="413.6" r="1.35" fill="#d0d0d0"/>
<circle cx="742.3" cy="413.6" r="1.35" fill="#d0d0d0"/>
<circle cx="758.1" cy="413.6" r="1.35" fill="#d0d0d0"/>
<circle cx="773.8" cy="413.6" r="1.35" fill="#d0d0d0"/>
<circle cx="789.6" cy="413.6" r="1.35" fill="#d0d0d0"/>
<circle cx="805.4" cy="413.6" r="1.35" fill="#8fe4ff"/>
<circle cx="821.1" cy="413.6" r="1.35" fill="#8fe4ff"/>
<circle cx="836.9" cy="413.6" r="1.35" fill="#8fe4ff"/>
<circle cx="852.7" cy="413.6" r="1.35" fill="#8fe4ff"/>
<circle cx="868.4" cy="413.6" r="1.35" fill="#8fe4ff"/>
<circle cx="884.2" cy="413.6" r="1.35" fill="#8fe4ff"/>
<circle cx="899.9" cy="413.6" r="1.35" fill="#8fe4ff"/>
<circle cx="915.7" cy="413.6" r="1.35" fill="#d0d0d0"/>
<circle cx="931.5" cy="413.6" r="1.35" fill="#d0d0d0"/>
<circle cx="947.2" cy="413.6" r="1.35" fill="#d0d0d0"/>
<circle cx="963.0" cy="413.6" r="1.35" fill="#d0d0d0"/>
<circle cx="395.5" cy="513.5" r="1.35" fill="#d0d0d0"/>
<circle cx="411.3" cy="513.5" r="1.35" fill="#d0d0d0"/>
<circle cx="427.0" cy="513.5" r="1.35" fill="#d0d0d0"/>
<circle cx="442.8" cy="513.5" r="1.35" fill="#d0d0d0"/>
<circle cx="458.6" cy="513.5" r="1.35" fill="#d0d0d0"/>
<circle cx="474.3" cy="513.5" r="1.35" fill="#d0d0d0"/>
<circle cx="490.1" cy="513.5" r="1.35" fill="#d0d0d0"/>
<circle cx="505.8" cy="513.5" r="1.35" fill="#d0d0d0"/>
<circle cx="521.6" cy="513.5" r="1.35" fill="#d0d0d0"/>
<circle cx="537.4" cy="513.5" r="1.35" fill="#d0d0d0"/>
<circle cx="553.1" cy="513.5" r="1.35" fill="#d0d0d0"/>
<circle cx="568.9" cy="513.5" r="1.35" fill="#d0d0d0"/>
<circle cx="584.7" cy="513.5" r="1.35" fill="#d0d0d0"/>
<circle cx="600.4" cy="513.5" r="1.35" fill="#d0d0d0"/>
<circle cx="616.2" cy="513.5" r="1.35" fill="#d0d0d0"/>
<circle cx="632.0" cy="513.5" r="1.35" fill="#d0d0d0"/>
<circle cx="647.7" cy="513.5" r="1.35" fill="#d0d0d0"/>
<circle cx="663.5" cy="513.5" r="1.35" fill="#d0d0d0"/>
<circle cx="679.2" cy="513.5" r="1.35" fill="#8fe4ff"/>
<circle cx="695.0" cy="513.5" r="1.35" fill="#8fe4ff"/>
<circle cx="710.8" cy="513.5" r="1.35" fill="#8fe4ff"/>
<circle cx="726.5" cy="513.5" r="1.35" fill="#8fe4ff"/>
<circle cx="742.3" cy="513.5" r="1.35" fill="#8fe4ff"/>
<circle cx="758.1" cy="513.5" r="1.35" fill="#8fe4ff"/>
<circle cx="773.8" cy="513.5" r="1.35" fill="#8fe4ff"/>
<circle cx="789.6" cy="513.5" r="1.35" fill="#8fe4ff"/>
<circle cx="805.4" cy="513.5" r="1.35" fill="#8fe4ff"/>
<circle cx="821.1" cy="513.5" r="1.35" fill="#d0d0d0"/>
<circle cx="836.9" cy="513.5" r="1.35" fill="#d0d0d0"/>
<circle cx="852.7" cy="513.5" r="1.35" fill="#d0d0d0"/>
<circle cx="868.4" cy="513.5" r="1.35" fill="#d0d0d0"/>
<circle cx="884.2" cy="513.5" r="1.35" fill="#d0d0d0"/>
<circle cx="899.9" cy="513.5" r="1.35" fill="#d0d0d0"/>
<circle cx="915.7" cy="513.5" r="1.35" fill="#d0d0d0"/>
<circle cx="931.5" cy="513.5" r="1.35" fill="#d0d0d0"/>
<circle cx="947.2" cy="513.5" r="1.35" fill="#d0d0d0"/>
<circle cx="963.0" cy="513.5" r="1.35" fill="#d0d0d0"/>
<circle cx="395.5" cy="613.4" r="1.35" fill="#d0d0d0"/>
<circle cx="411.3" cy="613.4" r="1.35" fill="#d0d0d0"/>
<circle cx="427.0" cy="613.4" r="1.35" fill="#8fe4ff"/>
<circle cx="442.8" cy="613.4" r="1.35" fill="#8fe4ff"/>
<circle cx="458.6" cy="613.4" r="1.35" fill="#8fe4ff"/>
<circle cx="474.3" cy="613.4" r="1.35" fill="#8fe4ff"/>
<circle cx="490.1" cy="613.4" r="1.35" fill="#8fe4ff"/>
<circle cx="505.8" cy="613.4" r="1.35" fill="#8fe4ff"/>
<circle cx="521.6" cy="613.4" r="1.35" fill="#8fe4ff"/>
<circle cx="537.4" cy="613.4" r="1.35" fill="#8fe4ff"/>
<circle cx="553.1" cy="613.4" r="1.35" fill="#8fe4ff"/>
<circle cx="568.9" cy="613.4" r="1.35" fill="#8fe4ff"/>
<circle cx="584.7" cy="613.4" r="1.35" fill="#8fe4ff"/>
<circle cx="600.4" cy="613.4" r="1.35" fill="#8fe4ff"/>
<circle cx="616.2" cy="613.4" r="1.35" fill="#8fe4ff"/>
<circle cx="632.0" cy="613.4" r="1.35" fill="#8fe4ff"/>
<circle cx="647.7" cy="613.4" r="1.35" fill="#8fe4ff"/>
<circle cx="663.5" cy="613.4" r="1.35" fill="#8fe4ff"/>
<circle cx="679.2" cy="613.4" r="1.35" fill="#8fe4ff"/>
<circle cx="695.0" cy="613.4" r="1.35" fill="#8fe4ff"/>
<circle cx="710.8" cy="613.4" r="1.35" fill="#8fe4ff"/>
<circle cx="726.5" cy="613.4" r="1.35" fill="#8fe4ff"/>
<circle cx="742.3" cy="613.4" r="1.35" fill="#8fe4ff"/>
<circle cx="758.1" cy="613.4" r="1.35" fill="#8fe4ff"/>
<circle cx="773.8" cy="613.4" r="1.35" fill="#8fe4ff"/>
<circle cx="789.6" cy="613.4" r="1.35" fill="#8fe4ff"/>
<circle cx="805.4" cy="613.4" r="1.35" fill="#8fe4ff"/>
<circle cx="821.1" cy="613.4" r="1.35" fill="#8fe4ff"/>
<circle cx="836.9" cy="613.4" r="1.35" fill="#8fe4ff"/>
<circle cx="852.7" cy="613.4" r="1.35" fill="#8fe4ff"/>
<circle cx="868.4" cy="613.4" r="1.35" fill="#8fe4ff"/>
<circle cx="884.2" cy="613.4" r="1.35" fill="#d0d0d0"/>
<circle cx="899.9" cy="613.4" r="1.35" fill="#d0d0d0"/>
<circle cx="915.7" cy="613.4" r="1.35" fill="#d0d0d0"/>
<circle cx="931.5" cy="613.4" r="1.35" fill="#d0d0d0"/>
<circle cx="947.2" cy="613.4" r="1.35" fill="#d0d0d0"/>
<circle cx="963.0" cy="613.4" r="1.35" fill="#d0d0d0"/>
<circle cx="395.5" cy="713.2" r="1.35" fill="#d0d0d0"/>
<circle cx="411.3" cy="713.2" r="1.35" fill="#d0d0d0"/>
<circle cx="427.0" cy="713.2" r="1.35" fill="#ffdfae"/>
<circle cx="442.8" cy="713.2" r="1.35" fill="#ffdfae"/>
<circle cx="458.6" cy="713.2" r="1.35" fill="#ffdfae"/>
<circle cx="474.3" cy="713.2" r="1.35" fill="#ffdfae"/>
<circle cx="490.1" cy="713.2" r="1.35" fill="#ffdfae"/>
<circle cx="505.8" cy="713.2" r="1.35" fill="#ffdfae"/>
<circle cx="521.6" cy="713.2" r="1.35" fill="#ffdfae"/>
<circle cx="537.4" cy="713.2" r="1.35" fill="#ffdfae"/>
<circle cx="553.1" cy="713.2" r="1.35" fill="#ffdfae"/>
<circle cx="568.9" cy="713.2" r="1.35" fill="#ffdfae"/>
<circle cx="584.7" cy="713.2" r="1.35" fill="#ffdfae"/>
<circle cx="600.4" cy="713.2" r="1.35" fill="#ffdfae"/>
<circle cx="616.2" cy="713.2" r="1.35" fill="#ffdfae"/>
<circle cx="632.0" cy="713.2" r="1.35" fill="#ffdfae"/>
<circle cx="647.7" cy="713.2" r="1.35" fill="#ffdfae"/>
<circle cx="663.5" cy="713.2" r="1.35" fill="#ffdfae"/>
<circle cx="679.2" cy="713.2" r="1.35" fill="#ffdfae"/>
<circle cx="695.0" cy="713.2" r="1.35" fill="#ffdfae"/>
<circle cx="710.8" cy="713.2" r="1.35" fill="#ffdfae"/>
<circle cx="726.5" cy="713.2" r="1.35" fill="#ffdfae"/>
<circle cx="742.3" cy="713.2" r="1.35" fill="#ffdfae"/>
<circle cx="758.1" cy="713.2" r="1.35" fill="#ffdfae"/>
<circle cx="773.8" cy="713.2" r="1.35" fill="#ffdfae"/>
<circle cx="789.6" cy="713.2" r="1.35" fill="#ffdfae"/>
<circle cx="805.4" cy="713.2" r="1.35" fill="#ffdfae"/>
<circle cx="821.1" cy="713.2" r="1.35" fill="#ffdfae"/>
<circle cx="836.9" cy="713.2" r="1.35" fill="#ffdfae"/>
<circle cx="852.7" cy="713.2" r="1.35" fill="#ffdfae"/>
<circle cx="868.4" cy="713.2" r="1.35" fill="#d0d0d0"/>
<circle cx="884.2" cy="713.2" r="1.35" fill="#d0d0d0"/>
<circle cx="899.9" cy="713.2" r="1.35" fill="#d0d0d0"/>
<circle cx="915.7" cy="713.2" r="1.35" fill="#d0d0d0"/>
<circle cx="931.5" cy="713.2" r="1.35" fill="#d0d0d0"/>
<circle cx="947.2" cy="713.2" r="1.35" fill="#d0d0d0"/>
<circle cx="963.0" cy="713.2" r="1.35" fill="#d0d0d0"/>
<circle cx="395.5" cy="813.1" r="1.35" fill="#d0d0d0"/>
<circle cx="411.3" cy="813.1" r="1.35" fill="#d0d0d0"/>
<circle cx="427.0" cy="813.1" r="1.35" fill="#d0d0d0"/>
<circle cx="442.8" cy="813.1" r="1.35" fill="#d0d0d0"/>
<circle cx="458.6" cy="813.1" r="1.35" fill="#d0d0d0"/>
<circle cx="474.3" cy="813.1" r="1.35" fill="#d0d0d0"/>
<circle cx="490.1" cy="813.1" r="1.35" fill="#d0d0d0"/>
<circle cx="505.8" cy="813.1" r="1.35" fill="#d0d0d0"/>
<circle cx="521.6" cy="813.1" r="1.35" fill="#d0d0d0"/>
<circle cx="537.4" cy="813.1" r="1.35" fill="#d0d0d0"/>
<circle cx="553.1" cy="813.1" r="1.35" fill="#d0d0d0"/>
<circle cx="568.9" cy="813.1" r="1.35" fill="#d0d0d0"/>
<circle cx="584.7" cy="813.1" r="1.35" fill="#d0d0d0"/>
<circle cx="600.4" cy="813.1" r="1.35" fill="#d0d0d0"/>
<circle cx="616.2" cy="813.1" r="1.35" fill="#d0d0d0"/>
<circle cx="632.0" cy="813.1" r="1.35" fill="#d0d0d0"/>
<circle cx="647.7" cy="813.1" r="1.35" fill="#d0d0d0"/>
<circle cx="663.5" cy="813.1" r="1.35" fill="#d0d0d0"/>
<circle cx="679.2" cy="813.1" r="1.35" fill="#d0d0d0"/>
<circle cx="695.0" cy="813.1" r="1.35" fill="#d0d0d0"/>
<circle cx="710.8" cy="813.1" r="1.35" fill="#d0d0d0"/>
<circle cx="726.5" cy="813.1" r="1.35" fill="#d0d0d0"/>
<circle cx="742.3" cy="813.1" r="1.35" fill="#d0d0d0"/>
<circle cx="758.1" cy="813.1" r="1.35" fill="#ffdfae"/>
<circle cx="773.8" cy="813.1" r="1.35" fill="#ffdfae"/>
<circle cx="789.6" cy="813.1" r="1.35" fill="#ffdfae"/>
<circle cx="805.4" cy="813.1" r="1.35" fill="#d0d0d0"/>
<circle cx="821.1" cy="813.1" r="1.35" fill="#d0d0d0"/>
<circle cx="836.9" cy="813.1" r="1.35" fill="#d0d0d0"/>
<circle cx="852.7" cy="813.1" r="1.35" fill="#d0d0d0"/>
<circle cx="868.4" cy="813.1" r="1.35" fill="#d0d0d0"/>
<circle cx="884.2" cy="813.1" r="1.35" fill="#d0d0d0"/>
<circle cx="899.9" cy="813.1" r="1.35" fill="#d0d0d0"/>
<circle cx="915.7" cy="813.1" r="1.35" fill="#d0d0d0"/>
<circle cx="931.5" cy="813.1" r="1.35" fill="#d0d0d0"/>
<circle cx="947.2" cy="813.1" r="1.35" fill="#d0d0d0"/>
<circle cx="963.0" cy="813.1" r="1.35" fill="#d0d0d0"/>
</g>
<g id="zero" clip-path="url(#pc)" stroke="#ea1018" stroke-width="4.3" stroke-linecap="round">
<line x1="658.7" y1="124.23" x2="658.7" y2="135.73"/>
<line x1="658.7" y1="155.75" x2="658.7" y2="167.25"/>
<line x1="658.7" y1="187.27" x2="658.7" y2="198.77"/>
<line x1="658.7" y1="218.79" x2="658.7" y2="230.29"/>
<line x1="658.7" y1="250.31" x2="658.7" y2="261.81"/>
<line x1="658.7" y1="281.83" x2="658.7" y2="293.33"/>
<line x1="658.7" y1="313.35" x2="658.7" y2="324.85"/>
<line x1="658.7" y1="344.87" x2="658.7" y2="356.37"/>
<line x1="658.7" y1="376.39" x2="658.7" y2="387.89"/>
<line x1="658.7" y1="407.91" x2="658.7" y2="419.41"/>
<line x1="658.7" y1="439.43" x2="658.7" y2="450.93"/>
<line x1="658.7" y1="470.95" x2="658.7" y2="482.45"/>
<line x1="658.7" y1="502.47" x2="658.7" y2="513.97"/>
<line x1="658.7" y1="533.99" x2="658.7" y2="545.49"/>
<line x1="658.7" y1="565.51" x2="658.7" y2="577.01"/>
<line x1="658.7" y1="597.03" x2="658.7" y2="608.53"/>
<line x1="658.7" y1="628.55" x2="658.7" y2="640.05"/>
<line x1="658.7" y1="660.07" x2="658.7" y2="671.57"/>
<line x1="658.7" y1="691.59" x2="658.7" y2="703.09"/>
<line x1="658.7" y1="723.11" x2="658.7" y2="734.61"/>
<line x1="658.7" y1="754.63" x2="658.7" y2="766.13"/>
<line x1="658.7" y1="786.15" x2="658.7" y2="797.65"/>
<line x1="658.7" y1="817.67" x2="658.7" y2="829.17"/>
<line x1="658.7" y1="849.19" x2="658.7" y2="860.69"/>
<line x1="658.7" y1="880.71" x2="658.7" y2="892.21"/>
</g>
<g id="ylabels" font-size="52" text-anchor="end">
<text x="346.7" y="181.5" letter-spacing="0.22">NKX2-5<tspan dy="-3" stroke="none">_</tspan><tspan dy="3">ASE</tspan></text>
<text x="346.5" y="231.4">NKX2-5</text>
<text x="343.3" y="281.4" letter-spacing="-3.20">ATAC</text>
<text x="349.2" y="331.3" letter-spacing="0.12">H3K27ac</text>
<text x="347.4" y="381.2" letter-spacing="-0.10">H3K27ac<tspan dy="-3" stroke="none">_</tspan><tspan dy="3">ASE</tspan></text>
<text x="346.7" y="431.1" letter-spacing="0.22">NKX2-5<tspan dy="-3" stroke="none">_</tspan><tspan dy="3">ASE</tspan></text>
<text x="346.5" y="481.1">NKX2-5</text>
<text x="343.3" y="531.0" letter-spacing="-3.20">ATAC</text>
<text x="349.2" y="580.9" letter-spacing="0.12">H3K27ac</text>
<text x="347.4" y="630.9" letter-spacing="-0.10">H3K27ac<tspan dy="-3" stroke="none">_</tspan><tspan dy="3">ASE</tspan></text>
<text x="346.7" y="680.8" letter-spacing="0.22">NKX2-5<tspan dy="-3" stroke="none">_</tspan><tspan dy="3">ASE</tspan></text>
<text x="347.4" y="730.7" letter-spacing="-0.10">H3K27ac<tspan dy="-3" stroke="none">_</tspan><tspan dy="3">ASE</tspan></text>
<text x="346.5" y="780.6">NKX2-5</text>
<text x="343.3" y="830.6" letter-spacing="-3.20">ATAC</text>
<text x="349.2" y="880.5" letter-spacing="0.12">H3K27ac</text>
</g>
<g id="xlabels" font-size="52" text-anchor="middle">
<text x="416.0" y="1003.7"><tspan dy="4" stroke="none">−</tspan><tspan dy="-4">6</tspan></text>
<text x="537.4" y="1003.7"><tspan dy="4" stroke="none">−</tspan><tspan dy="-4">3</tspan></text>
<text x="658.7" y="1003.7">0</text>
<text x="739.6" y="1003.7">2</text>
<text x="820.5" y="1003.7">4</text>
<text x="901.4" y="1003.7">6</text>
</g>
<text x="679.5" y="1109.3" font-size="52" text-anchor="middle">fgwas ln(Enrichment)</text>
<g id="groups" font-size="63.6">
<text x="1064.5" y="283.9">Heart rate</text>
<text x="1067.5" y="532.1" font-size="62.8">Atrial fibrillation</text>
<text x="1065" y="777.8">PR interval</text>
</g>
<circle cx="29.4" cy="1040" r="16.6" fill="#4d4d4d"/>
<circle cx="29.4" cy="1081.5" r="12.95" fill="#fff" stroke="#4d4d4d" stroke-width="7.5"/>
<g id="legend" font-size="41.9">
<text x="61" y="1054.9">Enriched</text>
<text x="61" y="1097.5">Not enriched</text>
</g>
</svg></body></html>
